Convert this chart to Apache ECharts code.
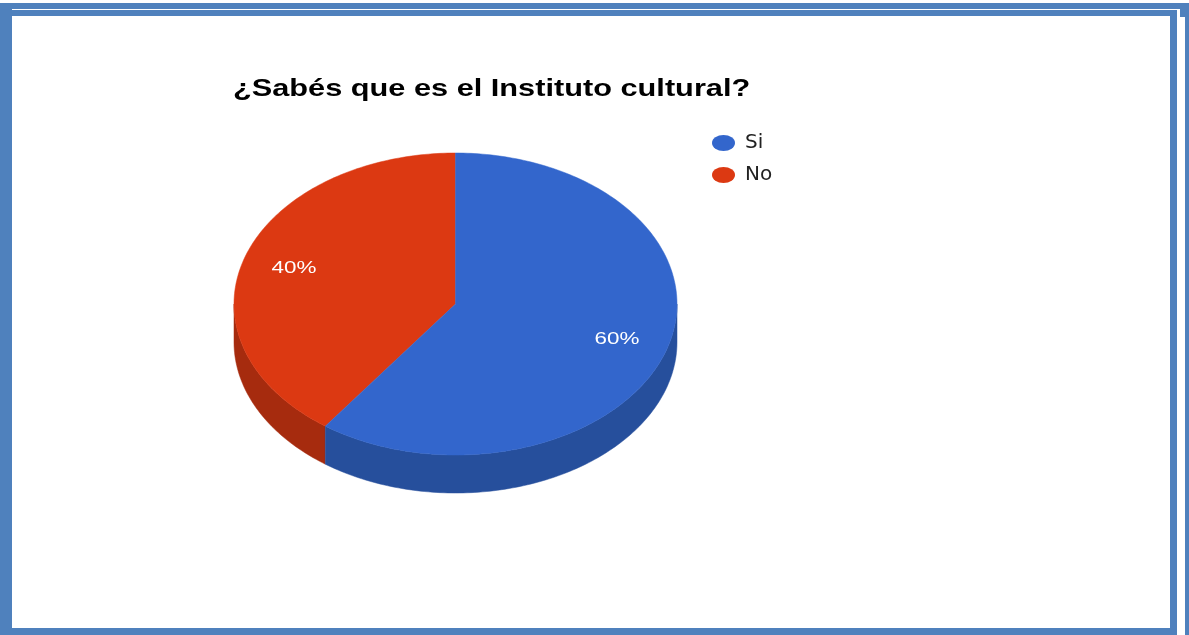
<!DOCTYPE html>
<html>
<head>
<meta charset="utf-8">
<script src="https://cdn.jsdelivr.net/npm/echarts@6/dist/echarts.min.js"></script>
<style>
  html, body { margin: 0; padding: 0; background: #ffffff; }
  #wrap { position: relative; width: 1189px; height: 635px; overflow: hidden; background: #fff; }
  .band { position: absolute; background: #4f81bd; }
  #chart { position: absolute; left: 0; top: 0; width: 1189px; height: 635px; }
</style>
</head>
<body>
<div id="wrap">
  <!-- outer frame -->
  <div class="band" style="left:0;top:3px;width:1189px;height:6px"></div>
  <div class="band" style="left:1180px;top:3px;width:9px;height:14px"></div>
  <div class="band" style="left:1185px;top:3px;width:4px;height:632px"></div>
  <!-- inner frame -->
  <div class="band" style="left:0;top:10px;width:1177px;height:6px"></div>
  <div class="band" style="left:0;top:3px;width:12px;height:632px"></div>
  <div class="band" style="left:1170px;top:10px;width:7px;height:625px"></div>
  <div class="band" style="left:0;top:628px;width:1177px;height:7px"></div>
  <div id="chart"></div>
</div>
<script>
// ---- data ----
var titleText = '¿Sabés que es el Instituto cultural?';
var categories = ['Si', 'No'];
var values = [60, 40];
var topColors = ['#3366cc', '#dc3912'];
var sideColors = ['#264f9c', '#a62b0e'];

// ---- layout (3D-like elliptical pie) ----
var CX = 455.5, CY = 304, RX = 221.5, RY = 151, DEPTH = 38, LABEL_K = 0.767;

var total = values.reduce(function (a, b) { return a + b; }, 0);
var starts = [];
var acc = 0;
values.forEach(function (v) { starts.push(acc); acc += v; });

function rim(t, dy) {
  var r = t * Math.PI / 180;
  return [CX + RX * Math.sin(r), CY - RY * Math.cos(r) + (dy || 0)];
}

function makeRenderItem(i) {
  return function (params, api) {
    var v = api.value(0);
    var s = api.value(1);
    var a0 = s / total * 360;
    var a1 = (s + v) / total * 360;
    var children = [];
    // side wall (front half of ellipse: 90..270)
    var f0 = Math.max(a0, 90), f1 = Math.min(a1, 270);
    if (f1 > f0) {
      var side = [];
      var t;
      for (t = f0; t <= f1; t += 1) side.push(rim(t, 0));
      side.push(rim(f1, 0));
      for (t = f1; t >= f0; t -= 1) side.push(rim(t, DEPTH));
      side.push(rim(f0, DEPTH));
      children.push({
        type: 'polygon', z2: 1,
        shape: { points: side },
        style: { fill: sideColors[i], stroke: sideColors[i], lineWidth: 0.5 }
      });
    }
    // top face
    var pts = [[CX, CY]];
    for (var a = a0; a <= a1; a += 1) pts.push(rim(a, 0));
    pts.push(rim(a1, 0));
    children.push({
      type: 'polygon', z2: 5,
      shape: { points: pts },
      style: { fill: topColors[i], stroke: topColors[i], lineWidth: 0.5 }
    });
    // label
    var mid = (a0 + a1) / 2 * Math.PI / 180;
    var lx = CX + RX * Math.sin(mid) * LABEL_K;
    var ly = CY - RY * Math.cos(mid) * LABEL_K;
    children.push({
      type: 'text', z2: 10,
      x: lx, y: ly, scaleX: 1.32,
      style: {
        text: Math.round(v / total * 100) + '%',
        fill: '#ffffff',
        font: '17px "Liberation Sans", Arial, sans-serif',
        align: 'center', verticalAlign: 'middle'
      }
    });
    return { type: 'group', children: children };
  };
}

var series = categories.map(function (name, i) {
  return {
    type: 'custom',
    name: name,
    coordinateSystem: 'none',
    itemStyle: { color: topColors[i] },
    z: i === 0 ? 2 : 1,
    data: [[values[i], starts[i]]],
    renderItem: makeRenderItem(i),
    animation: false
  };
});

var chart = echarts.init(document.getElementById('chart'), null, { renderer: 'canvas' });
chart.setOption({
  backgroundColor: 'transparent',
  animation: false,
  graphic: [{
    type: 'text',
    x: 233, y: 89,
    scaleX: 1.28,
    style: {
      text: titleText,
      font: 'bold 24px "Liberation Sans", Arial, sans-serif',
      fill: '#000',
      align: 'left', verticalAlign: 'middle'
    }
  }],
  legend: {
    orient: 'vertical',
    left: 707, top: 128,
    itemWidth: 23, itemHeight: 16, itemGap: 12,
    symbolKeepAspect: false,
    icon: 'path://M0 50A50 50 0 1 1 100 50A50 50 0 1 1 0 50Z',
    data: categories,
    textStyle: { fontFamily: '"DejaVu Sans", sans-serif', fontSize: 20, color: '#222', padding: [0, 0, 0, 5] }
  },
  series: series
});
</script>
</body>
</html>
